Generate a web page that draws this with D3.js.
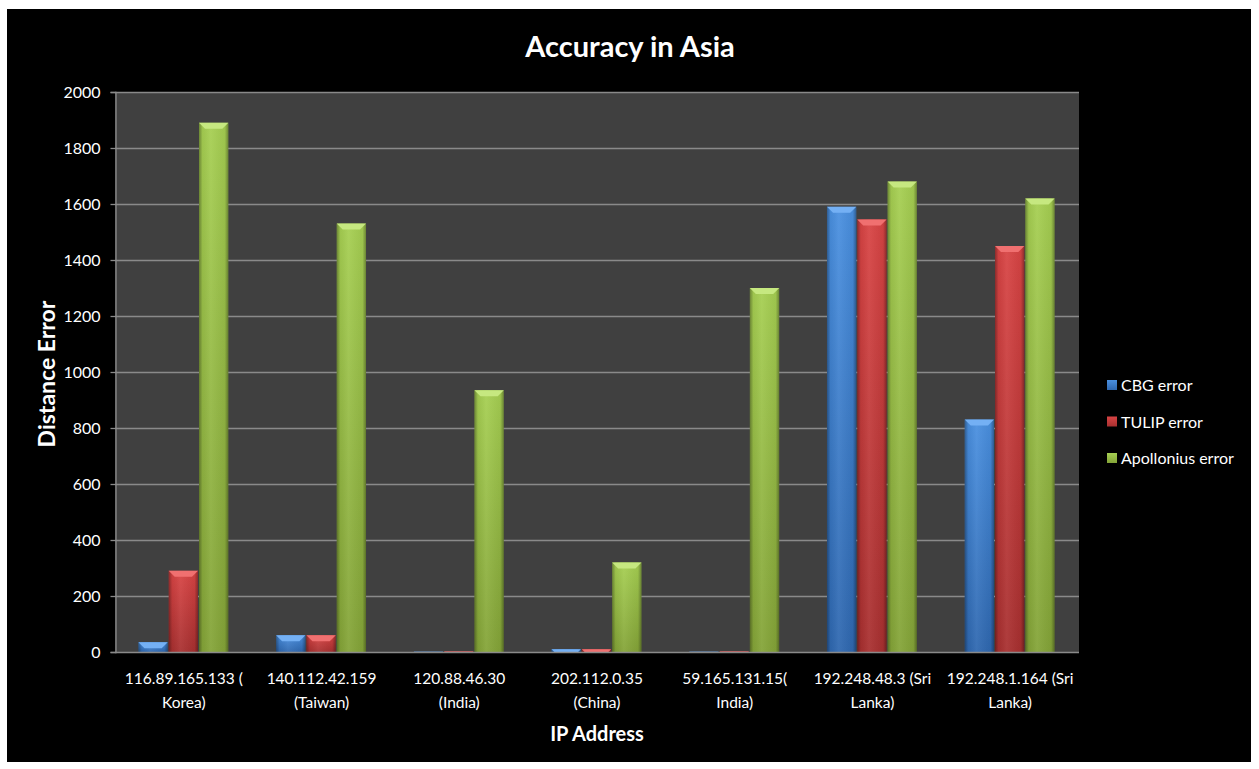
<!DOCTYPE html>
<html>
<head>
<meta charset="utf-8">
<script src="https://cdn.jsdelivr.net/npm/d3@7"></script>
<style>
  html, body { margin: 0; padding: 0; background: #ffffff; }
  svg { display: block; }
  text { font-family: Lato, "Open Sans", sans-serif; }
</style>
</head>
<body>
<svg id="chart" width="1259" height="769"></svg>
<script>
// ---- data ----
const categories = [
  ["116.89.165.133 (", "Korea)"],
  ["140.112.42.159", "(Taiwan)"],
  ["120.88.46.30", "(India)"],
  ["202.112.0.35", "(China)"],
  ["59.165.131.15(", "India)"],
  ["192.248.48.3 (Sri", "Lanka)"],
  ["192.248.1.164 (Sri", "Lanka)"]
];
const seriesNames = ["CBG error", "TULIP error", "Apollonius error"];
const cbgError = [35, 60, 1, 10, 1, 1590, 830];
const tulipError = [290, 60, 2, 10, 2, 1545, 1450];
const apolloniusError = [1890, 1530, 935, 320, 1300, 1680, 1620];
const yTicks = [0, 200, 400, 600, 800, 1000, 1200, 1400, 1600, 1800, 2000];
const titleText = "Accuracy in Asia";
const xTitle = "IP Address";
const yTitle = "Distance Error";

const seriesValues = [cbgError, tulipError, apolloniusError];
const palette = [
  {top: "#4a90e0", bottom: "#2f68b0", bevel: "#74b0f4"},
  {top: "#d84444", bottom: "#a83030", bevel: "#f07070"},
  {top: "#a6cf52", bottom: "#84a438", bevel: "#c6e880"}
];

const svg = d3.select("#chart");
// black frame
svg.append("rect").attr("x", 7).attr("y", 9).attr("width", 1244).attr("height", 753).attr("fill", "#000");

const plot = {left: 115, right: 1079, top: 92, bottom: 652};

const defs = svg.append("defs");
palette.forEach((p, i) => {
  const gv = defs.append("linearGradient").attr("id", "gv" + i)
    .attr("x1", 0).attr("y1", 0).attr("x2", 0).attr("y2", 1);
  gv.append("stop").attr("offset", "0%").attr("stop-color", p.top);
  gv.append("stop").attr("offset", "100%").attr("stop-color", p.bottom);
});
const gh = defs.append("linearGradient").attr("id", "gh")
  .attr("x1", 0).attr("y1", 0).attr("x2", 1).attr("y2", 0);
gh.append("stop").attr("offset", "0%").attr("stop-color", "#000").attr("stop-opacity", 0.35);
gh.append("stop").attr("offset", "12%").attr("stop-color", "#000").attr("stop-opacity", 0.05);
gh.append("stop").attr("offset", "40%").attr("stop-color", "#fff").attr("stop-opacity", 0.06);
gh.append("stop").attr("offset", "88%").attr("stop-color", "#000").attr("stop-opacity", 0.05);
gh.append("stop").attr("offset", "100%").attr("stop-color", "#000").attr("stop-opacity", 0.35);

// plot background
svg.append("rect").attr("x", plot.left).attr("y", plot.top)
  .attr("width", plot.right - plot.left).attr("height", plot.bottom - plot.top)
  .attr("fill", "#404040");

const x0 = d3.scaleBand().domain(d3.range(categories.length))
  .range([plot.left, plot.right]).paddingInner(0.34).paddingOuter(0.17);
const x1 = d3.scaleBand().domain(d3.range(seriesNames.length))
  .range([0, x0.bandwidth()]).padding(0);
const y = d3.scaleLinear().domain([0, 2000]).range([plot.bottom, plot.top]);

// gridlines
svg.append("g").selectAll("line").data(yTicks.filter(t => t > 0)).join("line")
  .attr("x1", plot.left).attr("x2", plot.right)
  .attr("y1", d => y(d) + 0.5).attr("y2", d => y(d) + 0.5)
  .attr("stroke", "#8a8a8a").attr("stroke-width", 1.3);

// y axis
const yAxis = svg.append("g").attr("transform", `translate(${plot.left + 0.5},0)`)
  .call(d3.axisLeft(y).tickValues(yTicks).tickSize(5).tickPadding(10).tickFormat(d3.format("d")));
yAxis.select(".domain").attr("stroke", "#8a8a8a").attr("stroke-width", 1.3);
yAxis.selectAll(".tick line").attr("stroke", "#8a8a8a").attr("stroke-width", 1.3);
yAxis.selectAll(".tick text").attr("fill", "#ffffff").attr("font-size", 16)
  .attr("font-family", "Lato, 'Open Sans', sans-serif");

// bars
const groups = svg.append("g").selectAll("g").data(categories).join("g")
  .attr("transform", (d, i) => `translate(${x0(i)},0)`);
groups.each(function(cat, ci) {
  const g = d3.select(this);
  seriesValues.forEach((vals, si) => {
    const v = vals[ci];
    const bx = x1(si), bw = x1.bandwidth() - 1;
    const by = y(v), bh = plot.bottom - y(v);
    if (bh <= 0) return;
    g.append("rect").attr("x", bx).attr("y", by).attr("width", bw).attr("height", bh)
      .attr("fill", `url(#gv${si})`);
    g.append("rect").attr("x", bx).attr("y", by).attr("width", bw).attr("height", bh)
      .attr("fill", "url(#gh)");
    const bev = Math.min(6, bh);
    const inset = Math.min(6, bh);
    g.append("polygon")
      .attr("points", [[bx, by], [bx + bw, by], [bx + bw - inset, by + bev], [bx + inset, by + bev]].map(p => p.join(",")).join(" "))
      .attr("fill", palette[si].bevel);
  });
});

// x axis line
svg.append("line").attr("x1", plot.left).attr("x2", plot.right)
  .attr("y1", plot.bottom + 0.5).attr("y2", plot.bottom + 0.5)
  .attr("stroke", "#8a8a8a").attr("stroke-width", 1.5);

// x labels
const xl = svg.append("g").selectAll("text").data(categories).join("text")
  .attr("text-anchor", "middle").attr("fill", "#fff").attr("font-size", 15.5)
  .attr("x", (d, i) => x0(i) + x0.bandwidth() / 2)
  .attr("y", 684);
xl.selectAll("tspan").data(d => d).join("tspan")
  .attr("x", function() { return d3.select(this.parentNode).attr("x"); })
  .attr("dy", (d, i) => i === 0 ? 0 : 24)
  .text(d => d);

// title
svg.append("text").attr("x", 630).attr("y", 57).attr("text-anchor", "middle")
  .attr("fill", "#fff").attr("font-size", 29).attr("font-weight", "bold").text(titleText);
// x axis title
svg.append("text").attr("x", 597).attr("y", 741).attr("text-anchor", "middle")
  .attr("fill", "#fff").attr("font-size", 20).attr("font-weight", "bold").text(xTitle);
// y axis title
svg.append("text").attr("transform", "translate(55,374) rotate(-90)").attr("text-anchor", "middle")
  .attr("fill", "#fff").attr("font-size", 23).attr("font-weight", "bold").text(yTitle);

// legend
const legend = svg.append("g").selectAll("g").data(seriesNames).join("g")
  .attr("transform", (d, i) => `translate(1107,${385 + i * 36.5})`);
legend.append("rect").attr("x", 0).attr("y", -5).attr("width", 10).attr("height", 10)
  .attr("fill", (d, i) => `url(#gv${i})`);
legend.append("text").attr("x", 14).attr("y", 6).attr("fill", "#fff").attr("font-size", 16)
  .text(d => d);
</script>
</body>
</html>
